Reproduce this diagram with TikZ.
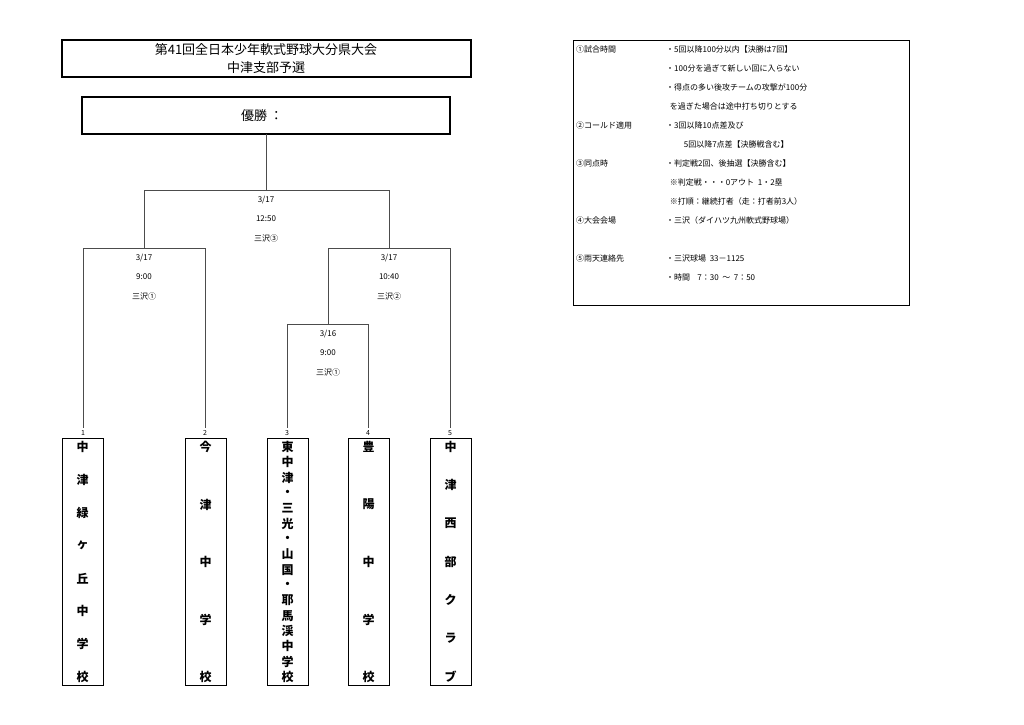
\documentclass[tikz,border=0pt]{standalone}
\usepackage{fontspec}
\setmainfont{Noto Sans CJK JP}
\begin{document}
\begin{tikzpicture}[x=1pt,y=-1pt,
  box/.style={draw,line width=1.1pt},
  ln/.style={draw=black!70,line width=0.8pt},
  sm/.style={font=\fontsize{8}{9}\selectfont,inner sep=0pt},
  tt/.style={font=\fontsize{13}{15}\selectfont,inner sep=0pt},
  vt/.style={font=\bfseries\fontsize{12}{13}\selectfont,inner sep=0pt}]
\useasboundingbox (0,0) rectangle (1024,724);
% title
\draw[box] (62,40) rectangle (471,77);
\node[tt] (t1) at (266,50) {第41回全日本少年軟式野球大分県大会};
\node[tt] (t2) at (266,68) {中津支部予選};
\draw[box] (82,97) rectangle (450,134);
\node[tt] (wt) at (262,116) {優勝 ：};
% bracket coordinates
\coordinate (w) at (266,134);
\coordinate (fc) at (266,190);
\coordinate (fl) at (144,190); \coordinate (fr) at (389,190);
\coordinate (sl) at (144,248); \coordinate (sr) at (389,248);
\coordinate (a1) at (83,248); \coordinate (a2) at (205,248);
\coordinate (b1) at (328,248); \coordinate (b2) at (450,248);
\coordinate (b1d) at (328,324);
\coordinate (c1) at (287,324); \coordinate (c2) at (368,324);
\foreach \i/\x in {1/83,2/205,3/287,4/368,5/450}{
  \coordinate (e\i) at (\x,428);
  \node[sm,font=\fontsize{7}{8}\selectfont] (n\i) at (\x,433) {\i};}
\path[ln] (w) -- (fc) (fl) -- (fr) (fl) -- (sl) (fr) -- (sr)
  (a1) -- (a2) (a1) -- (e1) (a2) -- (e2)
  (b1) -- (b2) (b2) -- (e5) (b1) -- (b1d)
  (c1) -- (c2) (c1) -- (e3) (c2) -- (e4);
% labels
\foreach \x/\a/\b/\c/\y in {266/3\slash 17/12:50/三沢③/200, 144/3\slash 17/9:00/三沢①/258, 389/3\slash 17/10:40/三沢②/258, 328/3\slash 16/9:00/三沢①/334}{
  \node[sm] at (\x,\y) {\a};
  \node[sm] at (\x,\y+19) {\b};
  \node[sm] at (\x,\y+38) {\c};}
% team boxes
\foreach \i/\x/\s in {1/62/{中,津,緑,ヶ,丘,中,学,校},2/185/{今,津,中,学,校},3/267/{東,中,津,・,三,光,・,山,国,・,耶,馬,渓,中,学,校},4/348/{豊,陽,中,学,校},5/430/{中,津,西,部,ク,ラ,ブ}}{
  \draw[box,line width=0.9pt] (\x,438) rectangle (\x+41,685);
  \foreach \ch [count=\k] in \s {\xdef\nn{\k}}
  \foreach \ch [count=\k] in \s {
    \node[vt] at (\x+20.5,{447+(\k-1)*230/(\nn-1)}) {\ch};}
}
% info box
\draw[box,line width=0.8pt] (573,40) rectangle (909,305);
\foreach \y/\l/\r in {49/①試合時間/・5回以降100分以内【決勝は7回】,
  68//・100分を過ぎて新しい回に入らない,
  87//・得点の多い後攻チームの攻撃が100分,
  106//\ \ を過ぎた場合は途中打ち切りとする,
  125/②コールド適用/・3回以降10点差及び,
  144//\hspace{2.2em}5回以降7点差【決勝戦含む】,
  163/③同点時/・判定戦2回、後抽選【決勝含む】,
  182//\ \ ※判定戦・・・0アウト\ \ 1・2塁,
  201//\ \ ※打順：継続打者（走：打者前3人）,
  220/④大会会場/・三沢（ダイハツ九州軟式野球場）,
  258/⑤雨天連絡先/・三沢球場\ \ 33－1125,
  277//・時間\ \ \ \ 7：30\ \ ～\ \ 7：50}{
  \node[sm,anchor=west] at (576,\y) {\l};
  \node[sm,anchor=west] at (666,\y) {\r};}
\end{tikzpicture}
\end{document}
